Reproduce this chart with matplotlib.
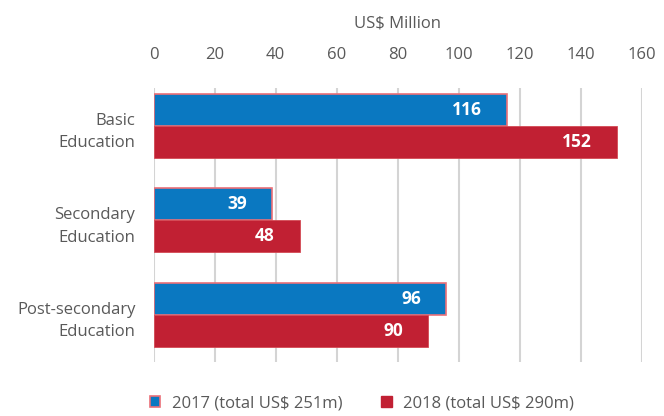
import matplotlib
matplotlib.use("Agg")
import matplotlib.pyplot as plt
import numpy as np
from matplotlib.patches import Patch

categories = ["Basic\nEducation", "Secondary\nEducation", "Post-secondary\nEducation"]
values_2017 = [116, 39, 96]
values_2018 = [152, 48, 90]
series_labels = ["2017 (total US$ 251m)", "2018 (total US$ 290m)"]
x_ticks = [0, 20, 40, 60, 80, 100, 120, 140, 160]

BLUE = "#0a78c1"
RED = "#c12033"
EDGE = "#ea7078"
GRID = "#d4d4d4"
TXT = "#595959"
FONT = "Open Sans"
FS = 12

plt.rcParams["font.family"] = [FONT, "DejaVu Sans"]

fig = plt.figure(figsize=(6.64, 4.16), dpi=100)
ax = fig.add_axes([153.5 / 664, 1 - 362 / 416, (641.5 - 153.5) / 664, (362 - 88) / 416])

y = np.arange(len(categories))
h = 0.34
b1 = ax.barh(y - h / 2, values_2017, height=h, color=BLUE, edgecolor=EDGE, linewidth=1.2, zorder=3)
b2 = ax.barh(y + h / 2, values_2018, height=h, color=RED, edgecolor="#d44a55", linewidth=0.6, zorder=3)

for bars, vals in ((b1, values_2017), (b2, values_2018)):
    for bar, v in zip(bars, vals):
        ax.annotate(str(v), xy=(v, bar.get_y() + bar.get_height() / 2),
                    xytext=(-25, 0), textcoords="offset pixels",
                    ha="right", va="center", color="white", fontsize=12.5,
                    fontweight="bold", zorder=4)

ax.set_xlim(0, 160)
ax.set_ylim(2.5, -0.4)
ax.set_xticks(x_ticks)
ax.xaxis.tick_top()
ax.xaxis.set_label_position("top")
ax.tick_params(axis="x", length=0, pad=18, labelsize=FS, labelcolor=TXT)
ax.set_xlabel("US$ Million", fontsize=FS, color=TXT, labelpad=14)
ax.set_yticks(y + 0.01)
ax.set_yticklabels(categories, fontsize=FS, color=TXT, linespacing=1.55)
ax.tick_params(axis="y", length=0, pad=13)
for s in ax.spines.values():
    s.set_visible(False)
ax.grid(axis="x", color=GRID, linewidth=1.5, zorder=0)
ax.set_axisbelow(True)

handles = [Patch(facecolor=BLUE, edgecolor=EDGE, linewidth=1.2),
           Patch(facecolor=RED, edgecolor=RED)]
fig.legend(handles, series_labels, loc="center", bbox_to_anchor=(362 / 664, 1 - 403 / 416),
           ncol=2, frameon=False, fontsize=FS, labelcolor=TXT,
           handlelength=0.65, handleheight=0.65, handletextpad=0.7, columnspacing=2.3)

fig.savefig("out.png", dpi=100)
